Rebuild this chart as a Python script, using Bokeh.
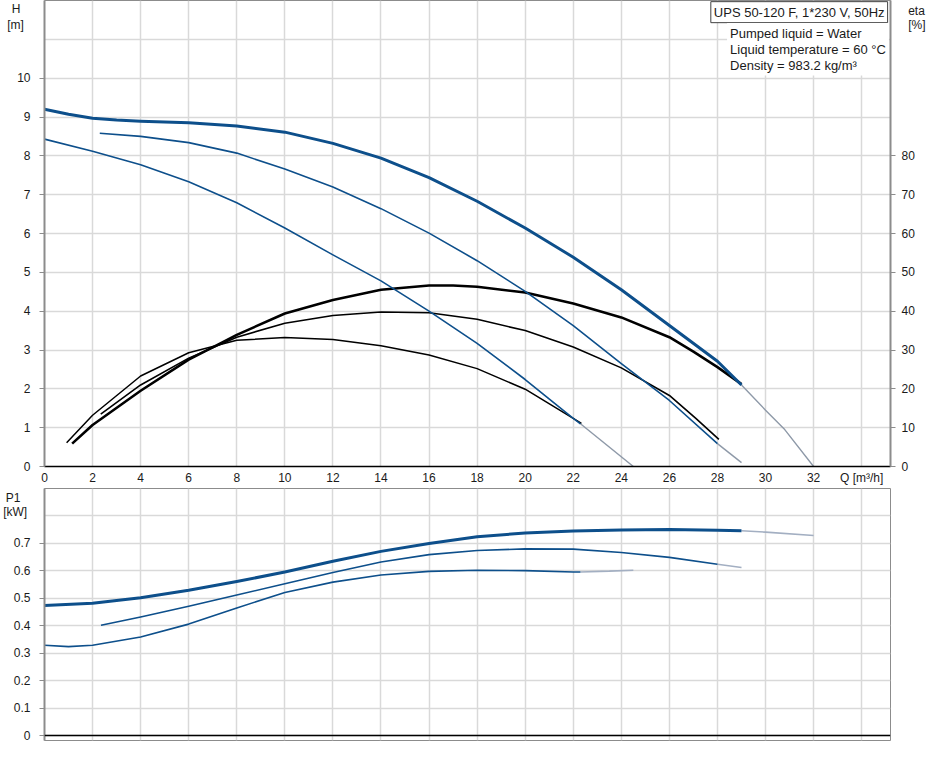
from bokeh.plotting import figure
from bokeh.models import Range1d, LinearAxis, FixedTicker, Label, Span
from bokeh.layouts import column
from bokeh.embed import file_html
from bokeh.resources import INLINE

FONT = "Liberation Sans"
BLUE = "#0d4f8b"
EXT = "#8e99a8"
GRID = "#d9d9d9"
AXG = "#8c8c8c"
NB = "\u00a0"

# ---------------- data ----------------
# Head curves (H [m]) for the three speeds
q_h3 = [0, 1, 2, 3, 4, 6, 8, 10, 12, 14, 16, 18, 20, 22, 24, 26, 28, 29]
h_3 = [9.20, 9.07, 8.97, 8.92, 8.89, 8.85, 8.77, 8.61, 8.32, 7.94, 7.44, 6.83, 6.14, 5.39, 4.55, 3.63, 2.71, 2.10]
q_h3_ext = [29, 30, 30.8, 32]
h_3_ext = [2.10, 1.45, 0.95, 0.0]

q_h2 = [2.3, 4, 6, 8, 10, 12, 14, 16, 18, 20, 22, 24, 26, 28]
h_2 = [8.58, 8.50, 8.34, 8.07, 7.66, 7.20, 6.64, 6.01, 5.30, 4.51, 3.63, 2.65, 1.70, 0.59]
q_h2_ext = [28, 29]
h_2_ext = [0.59, 0.10]

q_h1 = [0, 2, 4, 6, 8, 10, 12, 14, 16, 18, 20, 22, 22.3]
h_1 = [8.43, 8.12, 7.77, 7.33, 6.79, 6.14, 5.45, 4.78, 4.00, 3.17, 2.24, 1.24, 1.10]
q_h1_ext = [22.3, 24.5]
h_1_ext = [1.10, 0.0]

# Efficiency curves (eta [%])
q_e3 = [1.15, 2, 4, 6, 7.44, 8, 10, 12, 14, 16, 17, 18, 20, 22, 24, 26, 27, 28, 29]
eta_3 = [5.9, 10.7, 19.5, 27.5, 32.1, 33.9, 39.4, 42.9, 45.5, 46.6, 46.6, 46.3, 44.8, 42.0, 38.4, 33.3, 29.6, 25.6, 21.2]

q_e2 = [2.34, 4, 6, 8, 10, 12, 14, 16, 18, 20, 22, 24, 26, 27.1, 28.06]
eta_2 = [13.5, 21.0, 27.9, 33.3, 36.9, 38.9, 39.8, 39.6, 37.9, 35.0, 30.8, 25.4, 18.3, 12.4, 7.0]

q_e1 = [0.92, 2, 4, 6, 8, 10, 12, 14, 16, 18, 20, 22, 22.34]
eta_1 = [6.1, 13.2, 23.3, 29.3, 32.5, 33.2, 32.7, 31.1, 28.7, 25.2, 19.9, 12.4, 11.1]

# Power curves (P1 [kW])
q_p3 = [0, 2, 4, 6, 8, 10, 12, 14, 16, 18, 20, 22, 24, 26, 28, 29]
p_3 = [0.474, 0.482, 0.502, 0.529, 0.561, 0.596, 0.635, 0.671, 0.700, 0.724, 0.738, 0.745, 0.749, 0.751, 0.748, 0.746]
q_p3_ext = [29, 30, 32]
p_3_ext = [0.746, 0.741, 0.729]

q_p2 = [2.35, 4, 6, 8, 10, 12, 14, 16, 18, 20, 22, 24, 26, 28]
p_2 = [0.402, 0.432, 0.471, 0.512, 0.553, 0.594, 0.632, 0.659, 0.674, 0.680, 0.679, 0.667, 0.649, 0.624]
q_p2_ext = [28, 29]
p_2_ext = [0.624, 0.612]

q_p1 = [0, 1, 2, 4, 6, 8, 10, 12, 14, 16, 18, 20, 22, 22.3]
p_1 = [0.329, 0.324, 0.329, 0.359, 0.406, 0.465, 0.521, 0.559, 0.585, 0.598, 0.602, 0.601, 0.596, 0.596]
q_p1_ext = [22.3, 23.5, 24.5]
p_1_ext = [0.596, 0.599, 0.602]

q_ticks = list(range(0, 33, 2))
q_grid = list(range(0, 36, 2))
h_ticks = list(range(0, 11))
h_grid = list(range(0, 13))
eta_ticks = list(range(0, 81, 10))
p_ticks = [0, 0.1, 0.2, 0.3, 0.4, 0.5, 0.6, 0.7]
p_grid = [0, 0.1, 0.2, 0.3, 0.4, 0.5, 0.6, 0.7, 0.8, 0.9]

q_title = "Q [m\u00b3/h]"
h_title = ("H", "[m]")
eta_title = ("eta", "[%]")
p_title = ("P1", "[kW]")
title_text = "UPS 50-120 F, 1*230 V, 50Hz"
info_text = "Pumped liquid = Water\nLiquid temperature = 60 \u00b0C\nDensity = 983.2 kg/m\u00b3"

Q_MAX = 35.2
# tick positions (in axis units) used for the axis titles
Q_T = 34
H_T = (11.79, 11.36)
ETA_T = (117.4, 113.6)
P_T = (0.864, 0.816)


def style_axis(ax, line_color, standoff):
    ax.axis_line_color = line_color
    ax.axis_line_width = 2
    ax.major_tick_line_color = None
    ax.major_tick_out = 0
    ax.major_tick_in = 0
    ax.minor_tick_line_color = line_color
    ax.minor_tick_line_width = 1
    ax.minor_tick_out = 5
    ax.minor_tick_in = 0
    ax.major_label_text_font = FONT
    ax.major_label_text_font_size = "12px"
    ax.major_label_text_color = "#1a1a1a"
    ax.major_label_standoff = standoff


# ---------------- top panel ----------------
top = figure(frame_width=846, frame_height=466, x_range=Range1d(0, Q_MAX), y_range=Range1d(0, 12),
             output_backend="svg", toolbar_location=None,
             min_border_left=44, min_border_right=34, min_border_top=0, min_border_bottom=22)
top.extra_y_ranges = {"eta": Range1d(0, 120)}
top.outline_line_color = AXG

top.xgrid.ticker = FixedTicker(ticks=q_grid)
top.ygrid.ticker = FixedTicker(ticks=h_grid)
for g in (top.xgrid, top.ygrid):
    g.grid_line_color = GRID
    g.grid_line_width = 1.5

top.yaxis.ticker = FixedTicker(ticks=h_ticks + list(H_T), minor_ticks=h_ticks)
style_axis(top.yaxis[0], AXG, 9)
top.yaxis.major_label_overrides = {H_T[0]: h_title[0] + NB * 3, H_T[1]: h_title[1] + NB * 2}

top.xaxis.ticker = FixedTicker(ticks=q_ticks + [Q_T], minor_ticks=[])
style_axis(top.xaxis[0], "black", 4)
top.xaxis.axis_line_width = 1.5
top.xaxis.major_label_overrides = {Q_T: q_title}

eta_axis = LinearAxis(y_range_name="eta", ticker=FixedTicker(ticks=eta_ticks + list(ETA_T), minor_ticks=eta_ticks))
style_axis(eta_axis, AXG, 6)
eta_axis.major_label_overrides = {ETA_T[0]: NB * 2 + eta_title[0], ETA_T[1]: NB * 2 + eta_title[1]}
top.add_layout(eta_axis, "right")

# thin extensions
for qx, hy in ((q_h3_ext, h_3_ext), (q_h2_ext, h_2_ext), (q_h1_ext, h_1_ext)):
    top.line(qx, hy, line_color=EXT, line_width=1.4)

# efficiency curves
top.line(q_e1, eta_1, y_range_name="eta", line_color="black", line_width=1.5, line_join="round")
top.line(q_e2, eta_2, y_range_name="eta", line_color="black", line_width=1.6, line_join="round")
top.line(q_e3, eta_3, y_range_name="eta", line_color="black", line_width=2.6, line_join="round")

# head curves
top.line(q_h1, h_1, line_color=BLUE, line_width=1.6, line_join="round")
top.line(q_h2, h_2, line_color=BLUE, line_width=1.6, line_join="round")
top.line(q_h3, h_3, line_color=BLUE, line_width=3.0, line_join="round")

# info boxes
top.add_layout(Label(x=35.08, y=11.97, text=title_text, text_font=FONT, text_font_size="13px",
                     text_color="#1a1a1a", text_align="right", text_baseline="top",
                     background_fill_color="white", border_line_color="#404040",
                     border_line_width=1, padding=3))
top.add_layout(Label(x=28.4, y=11.42, text=info_text, text_font=FONT, text_font_size="13px",
                     text_color="#1a1a1a", text_align="left", text_baseline="top",
                     background_fill_color="white", padding=3, text_line_height=1.05))

# ---------------- bottom panel ----------------
bot = figure(frame_width=846, frame_height=252, x_range=top.x_range, y_range=Range1d(-0.018, 0.9),
             output_backend="svg", toolbar_location=None,
             min_border_left=44, min_border_right=34, min_border_top=0, min_border_bottom=3)
bot.outline_line_color = AXG
bot.xaxis.visible = False
bot.xgrid.ticker = FixedTicker(ticks=q_grid)
bot.ygrid.ticker = FixedTicker(ticks=p_grid)
for g in (bot.xgrid, bot.ygrid):
    g.grid_line_color = GRID
    g.grid_line_width = 1.5
bot.yaxis.ticker = FixedTicker(ticks=p_ticks + list(P_T), minor_ticks=p_ticks)
style_axis(bot.yaxis[0], AXG, 9)
bot.yaxis.major_label_overrides = {P_T[0]: p_title[0] + NB * 3, P_T[1]: p_title[1] + NB}
bot.add_layout(Span(location=0, dimension="width", line_color="black", line_width=1.5))

for qx, py in ((q_p3_ext, p_3_ext), (q_p2_ext, p_2_ext), (q_p1_ext, p_1_ext)):
    bot.line(qx, py, line_color="#a3afc2", line_width=1.6)

bot.line(q_p1, p_1, line_color=BLUE, line_width=1.6, line_join="round")
bot.line(q_p2, p_2, line_color=BLUE, line_width=1.6, line_join="round")
bot.line(q_p3, p_3, line_color=BLUE, line_width=3.0, line_join="round")

layout = column(top, bot, spacing=0)
open("out.html", "w").write(file_html(layout, INLINE))
